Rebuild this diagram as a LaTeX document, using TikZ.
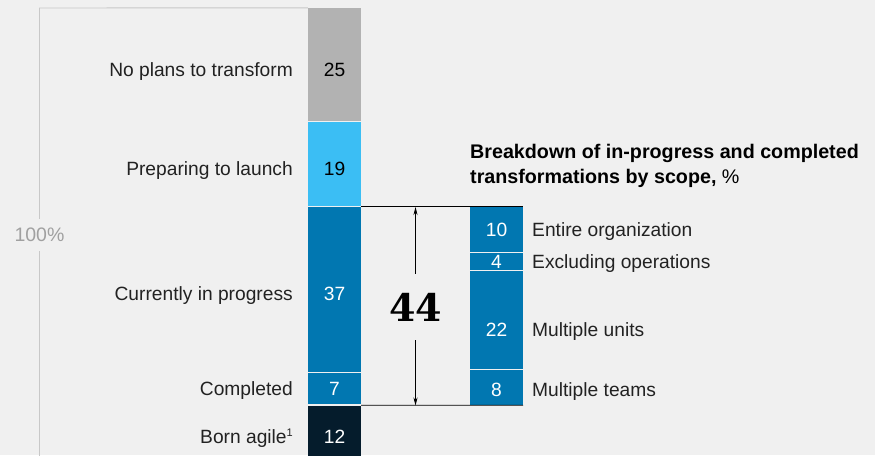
\documentclass[tikz,border=0pt]{standalone}
\usepackage{fontspec}
\setmainfont{Liberation Sans}
\newfontfamily\bignumfont{DejaVu Serif}
\usetikzlibrary{arrows.meta}

\definecolor{bgcol}{HTML}{F0F0F0}
\definecolor{nogray}{HTML}{B2B2B2}
\definecolor{skyblue}{HTML}{3BBEF4}
\definecolor{midblue}{HTML}{0177B1}
\definecolor{navy}{HTML}{051C2C}
\definecolor{inkgray}{HTML}{222222}
\definecolor{rulegray}{HTML}{C8C8C8}
\definecolor{pctgray}{HTML}{A0A0A0}

\tikzset{
  barseg/.style={rectangle, inner sep=0pt, minimum width=53pt},
  txt/.style={font=\fontsize{19.2}{22}\selectfont, text=inkgray, inner sep=0pt},
  heading/.style={font=\fontsize{19.7}{22}\selectfont\bfseries, text=black, inner sep=0pt},
  spanarrow/.style={-{Stealth[length=8pt,width=4pt]}, line width=0.7pt}
}

\begin{document}
\begin{tikzpicture}[x=1pt, y=-1pt]
    \fill[bgcol] (0,0) rectangle (875,455);
    \useasboundingbox (0,0) rectangle (875,455);

    %! --- Main bar ---
    % segments: name/top/bottom/fill/number colour/value/baseline/label
    \foreach \n/\t/\b/\col/\tc/\v/\ty/\lbl in {
        nop/8/120.5/nogray/black/25/76.5/{No plans to transform},
        prep/122/205.5/skyblue/black/19/175/{Preparing to launch},
        prog/207/371.5/midblue/white/37/300.5/{Currently in progress},
        done/373/404/midblue/white/7/395.5/{Completed},
        born/405.5/460/navy/white/12/443/{Born agile{\fontsize{11}{12}\selectfont\raisebox{6.5pt}{1}}}} {
        \pgfmathsetmacro\h{\b-\t}
        \node[barseg, fill=\col, minimum height=\h pt] (\n) at (334.5,{(\t+\b)/2}) {};
        \node[txt, text=\tc, anchor=base] (\n-v) at (334.5,\ty) {\v};
        \node[txt, anchor=base east] (\n-l) at (293,\ty) {\lbl};
    }

    % 100% bracket (left)
    \node[font=\fontsize{19.5}{22}\selectfont, text=pctgray, inner xsep=0pt, inner ysep=9pt] (pct) at (39.5,235) {100\%};
    \draw[rulegray, line width=0.9pt] (pct.north) -- (39.5,8) -- (nop.north west);
    \draw[rulegray, line width=0.9pt] (pct.south) -- (39.5,456);

    %! --- Breakdown bar ---
    \node[heading, anchor=base west] (head1) at (470,158) {Breakdown of in-progress and completed};
    \node[heading, anchor=base west] (head2) at (470,183) {transformations by scope, \mdseries\%};

    \foreach \n/\t/\b/\v/\ty/\lbl in {
        ent/207/251.5/10/236/{Entire organization},
        exo/253/269.5/4/268.5/{Excluding operations},
        mun/271/368.5/22/336/{Multiple units},
        mte/370/405/8/396/{Multiple teams}} {
        \pgfmathsetmacro\h{\b-\t}
        \node[barseg, fill=midblue, minimum height=\h pt] (\n) at (496.5,{(\t+\b)/2}) {};
        \node[txt, text=white, anchor=base] (\n-v) at (496.5,\ty) {\v};
        \node[txt, anchor=base west] (\n-l) at (532,\ty) {\lbl};
    }

    % span lines and arrow
    \draw[black, line width=0.8pt] (prog.north east) -- (ent.north east);
    \draw[black, line width=0.8pt] (born.north east) -- (mte.south east);
    \node[font=\fontsize{38}{40}\selectfont\bignumfont\bfseries, inner xsep=0pt, inner ysep=19pt] (total) at (415.5,307) {44};
    \coordinate (spantop) at (415.5,207);
    \coordinate (spanbot) at (415.5,405.5);
    \draw[spanarrow] (total.north) -- (spantop);
    \draw[spanarrow] (total.south) -- (spanbot);
\end{tikzpicture}
\end{document}
